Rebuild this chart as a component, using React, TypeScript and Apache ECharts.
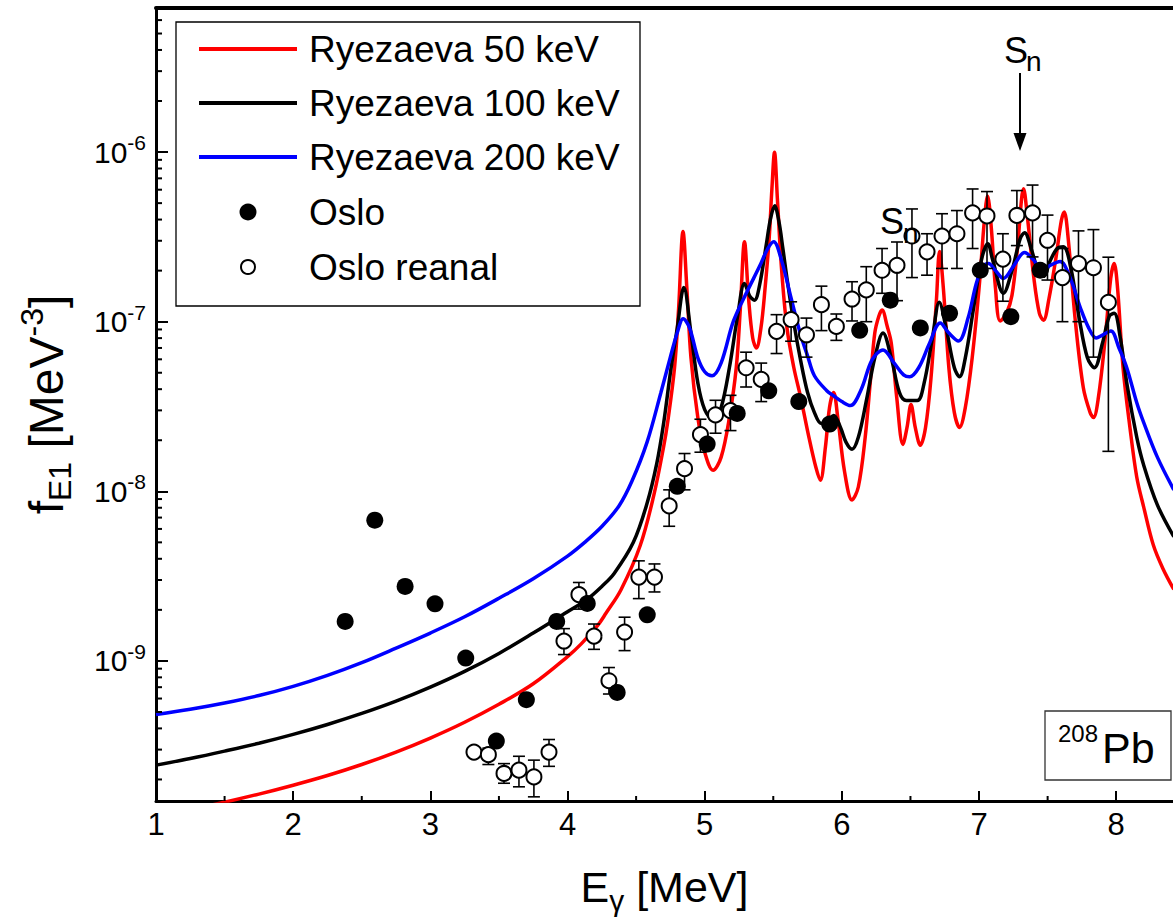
import React, { useEffect, useRef } from "react";
import * as echarts from "echarts";

const FONT = '"Liberation Sans", Arial, Helvetica, sans-serif';

const X_MIN = 1;
const X_MAX = 8.414;
const Y_MIN = 1.493e-10;
const Y_MAX = 7.07e-6;

const xTicks = [1, 2, 3, 4, 5, 6, 7, 8];
const xMinorTicks = [1.5, 2.5, 3.5, 4.5, 5.5, 6.5, 7.5];
const yDecades = [-9, -8, -7, -6];

// Ryezaeva 50 keV (red)
const ryezaeva50: [number, number][] = [
  [1.0, 1.22e-10], [1.25, 1.33e-10], [1.5, 1.47e-10], [1.75, 1.64e-10], [2.0, 1.85e-10], [2.25, 2.11e-10],
  [2.5, 2.45e-10], [2.75, 2.9e-10], [3.0, 3.51e-10], [3.25, 4.35e-10], [3.5, 5.55e-10], [3.75, 7.33e-10],
  [4.0, 1.06e-9], [4.1, 1.26e-9], [4.22, 1.62e-9], [4.28, 1.91e-9], [4.39, 2.63e-9],
  [4.53, 4.79e-9], [4.63, 9.55e-9], [4.7, 1.82e-8], [4.73, 2.55e-8], [4.78, 5.35e-8], [4.81, 1.2e-7],
  [4.842, 3.4e-7], [4.87, 1.57e-7], [4.9, 6.12e-8], [4.95, 2.72e-8], [5.0, 1.7e-8], [5.061, 1.33e-8],
  [5.12, 1.59e-8], [5.18, 2.72e-8], [5.23, 5.35e-8], [5.26, 1.2e-7], [5.29, 2.96e-7], [5.32, 1.37e-7],
  [5.35, 8.02e-8], [5.377, 7.0e-8], [5.41, 9.17e-8], [5.44, 1.57e-7], [5.47, 3.09e-7], [5.49, 6.07e-7],
  [5.509, 9.98e-7], [5.53, 5.3e-7], [5.56, 2.06e-7], [5.6, 9.17e-8], [5.65, 5.35e-8], [5.7, 3.57e-8],
  [5.76, 2.08e-8], [5.81, 1.39e-8], [5.843, 1.16e-8], [5.88, 1.82e-8], [5.91, 3.12e-8], [5.94, 3.82e-8],
  [5.97, 2.72e-8], [6.02, 1.3e-8], [6.074, 8.89e-9], [6.12, 1.06e-8], [6.17, 2.08e-8], [6.21, 4.68e-8],
  [6.24, 8.57e-8], [6.27, 1.08e-7], [6.293, 1.17e-7], [6.33, 9.42e-8], [6.36, 7.49e-8], [6.4, 3.57e-8],
  [6.445, 1.89e-8], [6.475, 2.38e-8], [6.504, 3.25e-8], [6.535, 2.38e-8], [6.572, 1.87e-8], [6.61, 2.38e-8],
  [6.65, 4.68e-8], [6.69, 1.37e-7], [6.712, 2.59e-7], [6.74, 1.57e-7], [6.78, 5.35e-8], [6.82, 2.91e-8],
  [6.858, 2.38e-8], [6.9, 3.12e-8], [6.95, 6.12e-8], [7.0, 1.57e-7], [7.04, 4.05e-7], [7.062, 5.51e-7],
  [7.09, 3.53e-7], [7.12, 1.57e-7], [7.154, 1.01e-7], [7.2, 1.12e-7], [7.24, 1.43e-7], [7.28, 2.7e-7],
  [7.31, 5.3e-7], [7.324, 6.07e-7], [7.35, 4.33e-7], [7.4, 1.8e-7], [7.44, 1.12e-7], [7.47, 1.02e-7],
  [7.51, 1.37e-7], [7.56, 2.36e-7], [7.6, 3.94e-7], [7.621, 4.44e-7], [7.65, 3.09e-7], [7.7, 1.05e-7],
  [7.76, 4.09e-8], [7.81, 2.91e-8], [7.834, 2.72e-8], [7.87, 3.57e-8], [7.92, 8.02e-8], [7.96, 1.8e-7],
  [7.985, 2.2e-7], [8.01, 1.57e-7], [8.05, 5.35e-8], [8.1, 2.38e-8], [8.15, 1.21e-8], [8.2, 8.1e-9],
  [8.27, 4.84e-9], [8.34, 3.51e-9], [8.42, 2.64e-9],
];

// Ryezaeva 100 keV (black)
const ryezaeva100: [number, number][] = [
  [1.0, 2.43e-10], [1.25, 2.66e-10], [1.5, 2.94e-10], [1.75, 3.27e-10], [2.0, 3.69e-10], [2.25, 4.22e-10],
  [2.5, 4.9e-10], [2.75, 5.79e-10], [3.0, 7.0e-10], [3.25, 8.67e-10], [3.5, 1.107e-9], [3.75, 1.46e-9],
  [4.0, 1.95e-9], [4.14, 2.3e-9], [4.25, 2.75e-9], [4.34, 3.28e-9], [4.48, 5.0e-9],
  [4.58, 8.5e-9], [4.65, 1.45e-8], [4.7, 2.5e-8], [4.75, 5.0e-8], [4.8, 9.17e-8], [4.848, 1.59e-7],
  [4.9, 8.57e-8], [4.95, 4.36e-8], [5.0, 3.03e-8], [5.066, 2.62e-8], [5.12, 3.12e-8], [5.18, 5.35e-8],
  [5.24, 1.08e-7], [5.29, 1.68e-7], [5.33, 1.41e-7], [5.363, 1.34e-7], [5.4, 1.64e-7], [5.45, 2.88e-7],
  [5.48, 4.05e-7], [5.51, 4.82e-7], [5.54, 3.94e-7], [5.57, 2.7e-7], [5.6, 1.8e-7], [5.65, 9.82e-8],
  [5.7, 5.87e-8], [5.75, 3.82e-8], [5.8, 2.91e-8], [5.85, 2.51e-8], [5.9, 2.62e-8], [5.94, 2.8e-8],
  [5.99, 2.38e-8], [6.03, 1.95e-8], [6.074, 1.77e-8], [6.12, 2.08e-8], [6.18, 3.47e-8], [6.24, 6.12e-8],
  [6.3, 8.57e-8], [6.36, 6.12e-8], [6.42, 3.82e-8], [6.47, 3.43e-8], [6.55, 3.43e-8], [6.6, 4.36e-8],
  [6.66, 8.02e-8], [6.71, 1.3e-7], [6.76, 9.17e-8], [6.82, 5.35e-8], [6.858, 4.73e-8], [6.9, 6.12e-8],
  [6.96, 1.2e-7], [7.02, 2.36e-7], [7.064, 2.88e-7], [7.1, 2.3e-7], [7.178, 1.47e-7], [7.24, 2.0e-7],
  [7.3, 3.09e-7], [7.332, 3.35e-7], [7.38, 2.7e-7], [7.43, 2.0e-7], [7.469, 1.85e-7], [7.52, 2.3e-7],
  [7.57, 2.7e-7], [7.615, 2.77e-7], [7.67, 2.06e-7], [7.73, 1.05e-7], [7.79, 6.12e-8], [7.841, 5.35e-8],
  [7.9, 7.49e-8], [7.95, 1.08e-7], [7.985, 1.12e-7], [8.03, 8.02e-8], [8.08, 4.2e-8], [8.15, 2.08e-8],
  [8.2, 1.43e-8], [8.3, 8.32e-9], [8.42, 5.4e-9],
];

// Ryezaeva 200 keV (blue)
const ryezaeva200: [number, number][] = [
  [1.0, 4.83e-10], [1.25, 5.19e-10], [1.5, 5.65e-10], [1.75, 6.25e-10], [2.0, 7.08e-10], [2.25, 8.22e-10],
  [2.5, 9.77e-10], [2.75, 1.19e-9], [3.0, 1.46e-9], [3.25, 1.82e-9], [3.5, 2.34e-9], [3.75, 3.05e-9],
  [4.0, 4.15e-9], [4.125, 5.0e-9], [4.25, 6.2e-9], [4.375, 8.2e-9], [4.47, 1.15e-8], [4.58, 1.95e-8],
  [4.68, 3.8e-8], [4.75, 6.2e-8], [4.8, 8.6e-8], [4.843, 1.04e-7], [4.89, 9.17e-8], [4.95, 6.12e-8],
  [5.0, 5.07e-8], [5.054, 4.8e-8], [5.12, 5.72e-8], [5.21, 1.01e-7], [5.31, 1.51e-7], [5.4, 2.12e-7],
  [5.46, 2.7e-7], [5.503, 2.96e-7], [5.56, 2.3e-7], [5.625, 1.43e-7], [5.7, 8.34e-8], [5.75, 6.29e-8],
  [5.8, 4.8e-8], [5.89, 3.92e-8], [5.94, 3.66e-8], [6.0, 3.38e-8], [6.062, 3.2e-8], [6.14, 3.97e-8],
  [6.22, 5.96e-8], [6.3, 6.82e-8], [6.38, 5.72e-8], [6.45, 4.86e-8], [6.494, 4.73e-8], [6.56, 5.35e-8],
  [6.64, 7.49e-8], [6.717, 9.82e-8], [6.78, 8.57e-8], [6.85, 7.69e-8], [6.92, 1.05e-7], [6.98, 1.68e-7],
  [7.03, 2.12e-7], [7.069, 2.2e-7], [7.12, 2.0e-7], [7.178, 1.8e-7], [7.25, 2.12e-7], [7.332, 2.56e-7],
  [7.4, 2.3e-7], [7.458, 2.0e-7], [7.52, 2.15e-7], [7.591, 2.26e-7], [7.66, 1.85e-7], [7.74, 1.2e-7],
  [7.8, 9.17e-8], [7.854, 8.02e-8], [7.9, 8.34e-8], [7.961, 8.81e-8], [8.02, 7.0e-8], [8.077, 5.35e-8],
  [8.15, 3.33e-8], [8.2, 2.55e-8], [8.3, 1.59e-8], [8.42, 1.02e-8],
];

// Oslo (filled circles)
const osloX = [2.379, 2.595, 2.816, 3.034, 3.258, 3.481, 3.7, 3.921, 4.144, 4.362, 4.581, 4.8, 5.018, 5.237,
  5.467, 5.686, 5.911, 6.13, 6.353, 6.572, 6.785, 7.009, 7.232, 7.446];
const osloY = [1.71e-9, 6.76e-9, 2.75e-9, 2.17e-9, 1.04e-9, 3.37e-10, 5.91e-10, 1.71e-9, 2.18e-9, 6.52e-10,
  1.87e-9, 1.07e-8, 1.9e-8, 2.88e-8, 3.91e-8, 3.38e-8, 2.49e-8, 8.89e-8, 1.34e-7, 9.19e-8, 1.12e-7, 2.01e-7,
  1.07e-7, 2.01e-7];

// Oslo reanal (open circles with error bars)
const reanalX = [3.318, 3.423, 3.537, 3.646, 3.755, 3.865, 3.974, 4.083, 4.193, 4.302, 4.416, 4.52, 4.634,
  4.741, 4.853, 4.969, 5.079, 5.188, 5.302, 5.412, 5.524, 5.63, 5.742, 5.851, 5.96, 6.074, 6.178, 6.293, 6.402,
  6.511, 6.621, 6.73, 6.839, 6.953, 7.058, 7.174, 7.276, 7.39, 7.499, 7.608, 7.725, 7.834, 7.943];
const reanalY = [2.9e-10, 2.8e-10, 2.17e-10, 2.27e-10, 2.07e-10, 2.9e-10, 1.31e-9, 2.46e-9, 1.4e-9, 7.64e-10,
  1.48e-9, 3.12e-9, 3.12e-9, 8.2e-9, 1.36e-8, 2.16e-8, 2.82e-8, 2.99e-8, 5.35e-8, 4.57e-8, 8.77e-8, 1.03e-7,
  8.37e-8, 1.26e-7, 9.38e-8, 1.36e-7, 1.54e-7, 2.01e-7, 2.15e-7, 3.2e-7, 2.58e-7, 3.2e-7, 3.3e-7, 4.38e-7,
  4.2e-7, 2.34e-7, 4.23e-7, 4.38e-7, 3.02e-7, 1.82e-7, 2.2e-7, 2.08e-7, 1.3e-7];
const reanalLo = [2.8e-10, 2.45e-10, 1.9e-10, 1.81e-10, 1.58e-10, 2.39e-10, 1.09e-9, 2.02e-9, 1.17e-9, 6.38e-10,
  1.15e-9, 2.33e-9, 2.55e-9, 6.22e-9, 1.02e-8, 1.7e-8, 2.2e-8, 2.28e-8, 4.12e-8, 3.38e-8, 6.49e-8, 7.67e-8,
  6.18e-8, 8.86e-8, 7.76e-8, 1.01e-7, 1.0e-7, 1.47e-7, 1.33e-7, 1.82e-7, 1.88e-7, 2.06e-7, 2.06e-7, 2.7e-7,
  2.06e-7, 1.32e-7, 2.81e-7, 2.41e-7, 1.76e-7, 1.0e-7, 1.0e-7, 6.18e-8, 1.72e-8];
const reanalHi = [3.0e-10, 3.06e-10, 2.48e-10, 2.74e-10, 2.6e-10, 3.44e-10, 1.55e-9, 2.9e-9, 1.65e-9, 9.14e-10,
  1.81e-9, 3.89e-9, 3.73e-9, 1.02e-8, 1.67e-8, 2.66e-8, 3.44e-8, 3.68e-8, 6.61e-8, 5.7e-8, 1.1e-7, 1.31e-7,
  1.05e-7, 1.62e-7, 1.11e-7, 1.72e-7, 2.11e-7, 2.7e-7, 2.95e-7, 4.62e-7, 3.3e-7, 4.33e-7, 4.52e-7, 6.06e-7,
  5.85e-7, 3.3e-7, 5.93e-7, 6.39e-7, 4.25e-7, 2.7e-7, 3.43e-7, 3.49e-7, 2.4e-7];

const legendNames = ["Ryezaeva 50 keV", "Ryezaeva 100 keV", "Ryezaeva 200 keV", "Oslo", "Oslo reanal"];
const lineColors = ["#ff0000", "#000000", "#0000ff"];

function txt(text: string, x: number, y: number, size: number, extra: any = {}) {
  return {
    type: "text",
    z: 100,
    style: {
      text, x, y, fontSize: size, fontFamily: FONT, fill: "#000",
      textAlign: "left", textVerticalAlign: "middle", align: "left", verticalAlign: "middle",
      ...extra,
    },
  };
}

export default function App() {
  const ref = useRef<HTMLDivElement>(null);
  useEffect(() => {
    if (!ref.current) return;
    const chart = echarts.init(ref.current, undefined, { renderer: "svg" });

    const yMinorVals: number[][] = [];
    for (let e = -10; e <= -6; e++) {
      for (let k = 2; k <= 9; k++) {
        const v = k * Math.pow(10, e);
        if (v > Y_MIN && v < Y_MAX) yMinorVals.push([X_MIN, v]);
      }
    }

    const rowY = [49, 103, 157, 212, 267];
    const graphic: any[] = [
      { type: "rect", z: 90, shape: { x: 176, y: 22, width: 464, height: 284 }, style: { fill: "#fff", stroke: "#000", lineWidth: 1.3 } },
    ];
    lineColors.forEach((c, i) => {
      graphic.push({ type: "line", z: 100, shape: { x1: 199, y1: rowY[i], x2: 297, y2: rowY[i] }, style: { stroke: c, lineWidth: 4 } });
    });
    graphic.push({ type: "circle", z: 100, shape: { cx: 248, cy: rowY[3], r: 8.5 }, style: { fill: "#000" } });
    graphic.push({ type: "circle", z: 100, shape: { cx: 248, cy: rowY[4], r: 7 }, style: { fill: "#fff", stroke: "#000", lineWidth: 2 } });
    legendNames.forEach((n, i) => graphic.push(txt(n, 309, rowY[i], 37)));

    // S_n annotation with arrow
    graphic.push(txt("S", 1004, 50, 36));
    graphic.push(txt("n", 1026, 61, 28));
    graphic.push({ type: "line", z: 100, shape: { x1: 1020, y1: 73, x2: 1020, y2: 136 }, style: { stroke: "#000", lineWidth: 2 } });
    graphic.push({ type: "polygon", z: 100, shape: { points: [[1013.5, 133], [1026.5, 133], [1020, 151]] }, style: { fill: "#000" } });
    // second S_n label
    graphic.push(txt("S", 880, 221, 36));
    graphic.push(txt("n", 903, 233, 28));
    // 208Pb box
    graphic.push({ type: "rect", z: 90, shape: { x: 1045, y: 711, width: 126, height: 69 }, style: { fill: "#fff", stroke: "#333", lineWidth: 1.3 } });
    graphic.push(txt("208", 1058, 733, 24));
    graphic.push(txt("Pb", 1102, 748, 43));

    const option: any = {
      animation: false,
      backgroundColor: "#fff",
      grid: { left: 156, top: 8, right: 0, bottom: 114, containLabel: false },
      xAxis: [
        {
          type: "value", min: X_MIN, max: X_MAX, interval: 1, position: "bottom",
          axisLine: { show: true, onZero: false, lineStyle: { color: "#000", width: 3 } },
          axisTick: { show: true, inside: true, length: 10, lineStyle: { color: "#000", width: 2 } },
          minorTick: { show: false },
          splitLine: { show: false }, minorSplitLine: { show: false },
          axisLabel: {
            color: "#000", fontSize: 31, fontFamily: FONT, margin: 8, showMaxLabel: false,
            formatter: (v: number) => (xTicks.indexOf(v) >= 0 ? String(v) : ""),
          },
          name: "{a|E}{s|γ}{a| [MeV]}", nameLocation: "middle", nameGap: 58,
          nameTextStyle: {
            color: "#000",
            rich: {
              a: { fontSize: 43, fontFamily: FONT, color: "#000", lineHeight: 56 },
              s: { fontSize: 30, fontFamily: FONT, color: "#000", lineHeight: 32, verticalAlign: "bottom" },
            },
          },
        },
        {
          type: "value", min: X_MIN, max: X_MAX, position: "top",
          axisLine: { show: true, onZero: false, lineStyle: { color: "#000", width: 4 } },
          axisTick: { show: false }, axisLabel: { show: false }, splitLine: { show: false },
        },
      ],
      yAxis: {
        type: "log", logBase: 10, min: Y_MIN, max: Y_MAX,
        axisLine: { show: true, onZero: false, lineStyle: { color: "#000", width: 3 } },
        axisTick: { show: true, inside: true, length: 12, lineStyle: { color: "#000", width: 2 } },
        splitLine: { show: false },
        axisLabel: {
          margin: 10, showMinLabel: false, showMaxLabel: false,
          formatter: (v: number) => {
            const e = Math.round(Math.log10(v));
            return yDecades.indexOf(e) >= 0 ? `{b|10}{s|${e}}` : "";
          },
          rich: {
            b: { fontSize: 30, fontFamily: FONT, color: "#000", lineHeight: 40 },
            s: { fontSize: 21, fontFamily: FONT, color: "#000", lineHeight: 14, verticalAlign: "top" },
          },
        },
        name: "{a|f}{sub|E1}{a| [MeV}{sup|-3}{a|]}", nameLocation: "middle", nameGap: 80,
        nameTextStyle: {
          color: "#000",
          rich: {
            a: { fontSize: 48, fontFamily: FONT, color: "#000", lineHeight: 60 },
            sub: { fontSize: 32, fontFamily: FONT, color: "#000", lineHeight: 36, verticalAlign: "bottom" },
            sup: { fontSize: 32, fontFamily: FONT, color: "#000", lineHeight: 32, verticalAlign: "top" },
          },
        },
      },
      graphic,
      series: [
        {
          type: "custom", name: "yMinorTicks", silent: true, clip: false, z: 3,
          data: yMinorVals,
          renderItem: (params: any, api: any) => {
            const p = api.coord([X_MIN, api.value(1)]);
            return { type: "line", shape: { x1: p[0], y1: p[1], x2: p[0] + 6, y2: p[1] }, style: { stroke: "#000", lineWidth: 2 } };
          },
        },
        {
          type: "custom", name: "xMinorTicks", silent: true, clip: false, z: 3,
          data: xMinorTicks.map((x) => [x, Y_MIN]),
          renderItem: (params: any, api: any) => {
            const p = api.coord([api.value(0), Y_MIN]);
            return { type: "line", shape: { x1: p[0], y1: p[1], x2: p[0], y2: p[1] - 5 }, style: { stroke: "#000", lineWidth: 2 } };
          },
        },
        { type: "line", name: legendNames[0], data: ryezaeva50, showSymbol: false, smooth: 0.35, silent: true, z: 2, lineStyle: { color: lineColors[0], width: 3.5 } },
        { type: "line", name: legendNames[1], data: ryezaeva100, showSymbol: false, smooth: 0.35, silent: true, z: 2, lineStyle: { color: lineColors[1], width: 3.5 } },
        { type: "line", name: legendNames[2], data: ryezaeva200, showSymbol: false, smooth: 0.35, silent: true, z: 2, lineStyle: { color: lineColors[2], width: 3.5 } },
        {
          type: "custom", name: "errbars", silent: true, z: 4,
          data: reanalX.map((x, i) => [x, reanalLo[i], reanalHi[i]]),
          encode: { x: 0, y: [1, 2] },
          renderItem: (params: any, api: any) => {
            const x = api.value(0);
            const lo = api.coord([x, api.value(1)]);
            const hi = api.coord([x, api.value(2)]);
            const w = 6;
            const st = { stroke: "#000", lineWidth: 1.6 };
            return {
              type: "group",
              children: [
                { type: "line", shape: { x1: lo[0], y1: lo[1], x2: hi[0], y2: hi[1] }, style: st },
                { type: "line", shape: { x1: lo[0] - w, y1: lo[1], x2: lo[0] + w, y2: lo[1] }, style: st },
                { type: "line", shape: { x1: hi[0] - w, y1: hi[1], x2: hi[0] + w, y2: hi[1] }, style: st },
              ],
            };
          },
        },
        {
          type: "scatter", name: legendNames[4], data: reanalX.map((x, i) => [x, reanalY[i]]),
          symbol: "circle", symbolSize: 15, z: 5, silent: true,
          itemStyle: { color: "#fff", borderColor: "#000", borderWidth: 2, opacity: 1 },
        },
        {
          type: "scatter", name: legendNames[3], data: osloX.map((x, i) => [x, osloY[i]]),
          symbol: "circle", symbolSize: 17, z: 6, silent: true,
          itemStyle: { color: "#000", opacity: 1 },
        },
      ],
    };
    chart.setOption(option);
    return () => chart.dispose();
  }, []);
  return <div ref={ref} style={{ position: "absolute", left: 0, top: 0, width: 1173, height: 920 }} />;
}
